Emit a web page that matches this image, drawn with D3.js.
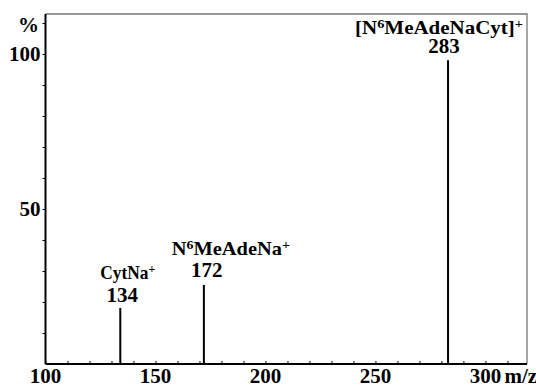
<!DOCTYPE html>
<html>
<head>
<meta charset="utf-8">
<script src="https://cdn.jsdelivr.net/npm/d3@7"></script>
<style>
  body { margin: 0; background: #fff; }
  svg text { font-family: "Liberation Serif", "Times New Roman", serif; font-weight: bold; fill: #000; }
</style>
</head>
<body>
<svg id="chart"></svg>
<script>
'use strict'

// peaks
const mzValues = [134, 172, 283]
const intensities = [18.1, 25.5, 98]
const ionNames = [
  [{t: 'CytNa'}, {t: '+', sup: true}],
  [{t: 'N'}, {t: '6', sup: true}, {t: 'MeAdeNa'}, {t: '+', sup: true}],
  [{t: '[N'}, {t: '6', sup: true}, {t: 'MeAdeNaCyt]'}, {t: '+', sup: true}]
]
const xTicks = [100, 150, 200, 250, 300]
const yTicks = [50, 100]

const width = 536, height = 387
const margins = {top: 14, right: 9, bottom: 23, left: 45.5}
const chartWidth = width - margins.left - margins.right
const chartHeight = height - margins.top - margins.bottom

const x = d3.scaleLinear().domain([100, 318.9]).range([0, chartWidth])
const y = d3.scaleLinear().domain([0, 112.9]).range([chartHeight, 0])

const svg = d3.select('#chart').attr('width', width).attr('height', height)
const g = svg.append('g').attr('transform', 'translate(' + margins.left + ',' + margins.top + ')')

// grey frame on top and right
g.append('path')
  .attr('d', 'M0,0H' + chartWidth + 'V' + chartHeight)
  .attr('fill', 'none').attr('stroke', '#777').attr('stroke-width', 1.3)

// x axis: minor ticks inside every 10
const xAxis = g.append('g').attr('transform', 'translate(0,' + chartHeight + ')')
xAxis.call(d3.axisTop(x).tickValues(d3.range(100, 311, 10)).tickSize(3).tickFormat(''))
xAxis.select('.domain').remove()
xAxis.selectAll('line').attr('stroke', '#000')
xAxis.append('line').attr('x1', 0).attr('x2', chartWidth).attr('stroke', '#000').attr('stroke-width', 2)
xAxis.selectAll('.xlab').data(xTicks).enter().append('text')
  .attr('class', 'xlab')
  .attr('x', d => x(d)).attr('y', 19)
  .attr('text-anchor', 'middle').style('font-size', '21px')
  .text(d => d)
xAxis.append('text').attr('x', x(300) + 19).attr('y', 19)
  .attr('text-anchor', 'start').style('font-size', '21px').text('m/z')

// y axis: ticks outside, minor every 10
const yAxis = g.append('g')
yAxis.call(d3.axisLeft(y).tickValues(d3.range(10, 111, 10)).tickSize(3).tickFormat(''))
yAxis.select('.domain').remove()
yAxis.selectAll('line').attr('stroke', '#000')
yAxis.append('line').attr('y1', 0).attr('y2', chartHeight).attr('stroke', '#000').attr('stroke-width', 2)
yAxis.selectAll('.ylab').data(yTicks).enter().append('text')
  .attr('class', 'ylab')
  .attr('x', -5).attr('y', d => y(d)).attr('dy', '0.35em')
  .attr('text-anchor', 'end').style('font-size', '21px')
  .text(d => d)
yAxis.append('text').attr('x', -17).attr('y', 18).attr('text-anchor', 'middle')
  .style('font-size', '21px').text('%')

// peaks
g.selectAll('.peak').data(mzValues).enter().append('line')
  .attr('class', 'peak')
  .attr('x1', d => x(d)).attr('x2', d => x(d))
  .attr('y1', chartHeight).attr('y2', (d, i) => y(intensities[i]))
  .attr('stroke', '#000').attr('stroke-width', 2)

// m/z numbers over peaks: [dx, dy from peak top]
const numberOffsets = [[2, -6], [3, -8], [-4, -7]]
g.selectAll('.mz').data(mzValues).enter().append('text')
  .attr('class', 'mz')
  .attr('x', (d, i) => x(d) + numberOffsets[i][0])
  .attr('y', (d, i) => y(intensities[i]) + numberOffsets[i][1])
  .attr('text-anchor', 'middle').style('font-size', '21px')
  .text(d => d)

// ion names: [dx of left edge, dy of baseline, width]
const nameOffsets = [[-20, -29, 55], [-32, -30, 118], [-93, -26, 168]]
mzValues.forEach((mz, i) => {
  const t = g.append('text')
    .attr('x', x(mz) + nameOffsets[i][0]).attr('y', y(intensities[i]) + nameOffsets[i][1])
    .attr('text-anchor', 'start').style('font-size', '19px')
    .attr('textLength', nameOffsets[i][2]).attr('lengthAdjust', 'spacingAndGlyphs')
  ionNames[i].forEach(p => {
    const s = t.append('tspan').text(p.t)
    if (p.sup) s.style('font-size', '13px').attr('baseline-shift', '45%')
  })
})
</script>
</body>
</html>
